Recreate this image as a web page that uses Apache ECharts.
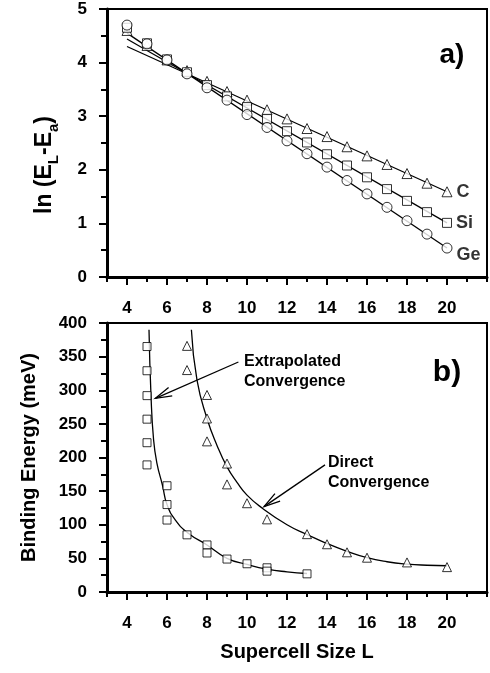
<!DOCTYPE html>
<html>
<head>
<meta charset="utf-8">
<script src="https://cdn.jsdelivr.net/npm/echarts@6/dist/echarts.min.js"></script>
<style>
  html, body { margin: 0; background: #fff; }
  #main { width: 490px; height: 673px; }
</style>
</head>
<body>
<div id="main"></div>
<script>
// panel a) ln(E_L - E_a) against L
const sizes = [4, 5, 6, 7, 8, 9, 10, 11, 12, 13, 14, 15, 16, 17, 18, 19, 20];
const geVals = [4.70, 4.35, 4.05, 3.79, 3.53, 3.30, 3.03, 2.79, 2.54, 2.30, 2.05, 1.80, 1.55, 1.30, 1.05, 0.80, 0.54];
const siVals = [4.65, 4.36, 4.06, 3.82, 3.58, 3.37, 3.17, 2.95, 2.72, 2.51, 2.29, 2.08, 1.86, 1.64, 1.42, 1.21, 1.01];
const cVals = [4.60, 4.32, 4.05, 3.85, 3.65, 3.46, 3.30, 3.12, 2.95, 2.77, 2.62, 2.43, 2.26, 2.10, 1.93, 1.75, 1.59];
// straight fits, value at L=4 and L=20
const fitX = [4, 20];
const geFit = [4.55, 0.54];
const siFit = [4.44, 1.01];
const cFit = [4.30, 1.59];

// panel b) binding energy (meV)
const extrapX = [5, 5, 5, 5, 5, 5, 6, 6, 6, 7, 8, 8, 9, 10, 11, 11, 13];
const extrapY = [365, 329, 292, 257, 222, 189, 158, 130, 107, 85, 70, 58, 49, 42, 36, 31, 27];
const directX = [7, 7, 8, 8, 8, 9, 9, 10, 11, 13, 14, 15, 16, 18, 20];
const directY = [366, 330, 293, 258, 224, 191, 160, 132, 108, 86, 71, 59, 51, 44, 37];
// fitted curves
const extrapCurveX = [5.10, 5.20, 5.33, 5.50, 5.78, 6.00, 6.42, 7.08, 8.00, 9.00, 10.0, 11.0, 12.0, 13.0];
const extrapCurveY = [390, 292, 226, 191, 158, 130, 107, 87, 70, 50, 41, 34, 30, 27.5];
const directCurveX = [7.22, 7.5, 8.0, 8.5, 9.0, 9.5, 10.0, 10.75, 12.0, 13.0, 14.0, 15.0, 16.0, 17.0, 18.0, 19.0, 20.0];
const directCurveY = [390, 315, 258, 218, 186, 163, 144, 125, 100, 85.5, 72, 60.5, 51, 45, 41.5, 39.8, 39];

const xTicks = [4, 6, 8, 10, 12, 14, 16, 18, 20];

const FONT = "'Liberation Sans', Arial, Helvetica, sans-serif";
const pairs = (xs, ys) => xs.map((x, i) => [x, ys[i]]);

const chart = echarts.init(document.getElementById('main'));

function majorX(grid, name) {
  return {
    gridIndex: grid, type: 'value', min: 3, max: 22, position: 'bottom',
    name: name, nameLocation: 'middle', nameGap: 50,
    nameTextStyle: { fontSize: 20, fontWeight: 'bold', color: '#000', fontFamily: FONT },
    axisLine: { show: true, lineStyle: { color: '#000', width: 3 } },
    axisTick: { show: true, customValues: xTicks, length: 8, lineStyle: { color: '#000', width: 2 } },
    axisLabel: { customValues: xTicks, margin: 23, fontSize: 17, fontWeight: 'bold', color: '#000', fontFamily: FONT },
    splitLine: { show: false }
  };
}
function minorX(grid) {
  return {
    gridIndex: grid, type: 'value', min: 3, max: 22, interval: 1, position: 'bottom',
    axisLine: { show: false },
    axisTick: { show: true, length: 5, lineStyle: { color: '#000', width: 2 } },
    axisLabel: { show: false },
    splitLine: { show: false }
  };
}
function yAx(grid, max, step, name) {
  return {
    gridIndex: grid, type: 'value', min: 0, max: max, interval: step,
    name: name, nameLocation: 'middle', nameGap: 68,
    nameTextStyle: { fontSize: 20, fontWeight: 'bold', color: '#000', fontFamily: FONT },
    axisLine: { show: true, lineStyle: { color: '#000', width: 3 } },
    axisTick: { show: true, length: 8, lineStyle: { color: '#000', width: 2 } },
    minorTick: { show: true, splitNumber: 2, length: 6, lineStyle: { color: '#000', width: 2 } },
    axisLabel: { margin: 20, fontSize: 17, fontWeight: 'bold', color: '#000', fontFamily: FONT },
    splitLine: { show: false }
  };
}

const marker = { color: '#fff', borderColor: '#000', borderWidth: 1 };
function points(data, symbol, size, xi, yi, tag, off) {
  return {
    type: 'scatter', xAxisIndex: xi, yAxisIndex: yi, data: data,
    symbol: symbol, symbolSize: size, itemStyle: marker, z: 5,
    label: {
      show: !!tag, position: 'right', distance: 4, offset: off || [0, 0],
      formatter: p => (p.dataIndex === data.length - 1 ? tag : ''),
      fontSize: 18, fontWeight: 'bold', color: '#000', fontFamily: FONT
    }
  };
}
function curve(data, xi, yi, smooth) {
  return {
    type: 'line', xAxisIndex: xi, yAxisIndex: yi, data: data, showSymbol: false,
    smooth: smooth || false, z: 3,
    lineStyle: { color: '#000', width: 1.3 }
  };
}

chart.setOption({
  animation: false,
  backgroundColor: '#fff',
  grid: [
    { left: 107, top: 9, width: 380, height: 268, show: true, borderColor: '#000', borderWidth: 2 },
    { left: 107, top: 323, width: 380, height: 269, show: true, borderColor: '#000', borderWidth: 2 }
  ],
  xAxis: [majorX(0, ''), minorX(0), majorX(1, 'Supercell Size L'), minorX(1)],
  yAxis: [yAx(0, 5, 1, ''), yAx(1, 400, 50, 'Binding Energy (meV)')],
  series: [
    curve(pairs(fitX, geFit), 0, 0),
    curve(pairs(fitX, siFit), 0, 0),
    curve(pairs(fitX, cFit), 0, 0),
    points(pairs(sizes, cVals), 'triangle', 10, 0, 0, 'C', [0, 0]),
    points(pairs(sizes, siVals), 'rect', 9, 0, 0, 'Si', [0, 0]),
    points(pairs(sizes, geVals), 'circle', 10, 0, 0, 'Ge', [0, 7]),
    curve(pairs(extrapCurveX, extrapCurveY), 2, 1, 0.5),
    curve(pairs(directCurveX, directCurveY), 2, 1, 0.5),
    points(pairs(extrapX, extrapY), 'rect', 8, 2, 1),
    points(pairs(directX, directY), 'triangle', 9, 2, 1)
  ]
});

// arrows and annotations
const toPx = pt => chart.convertToPixel({ xAxisIndex: 2, yAxisIndex: 1 }, pt);
function arrow(from, to) {
  const a = toPx(from), b = toPx(to);
  const ang = Math.atan2(a[1] - b[1], a[0] - b[0]);
  const len = 17, spread = 0.27;
  const arm = s => [b[0] + len * Math.cos(ang + s), b[1] + len * Math.sin(ang + s)];
  const ls = { stroke: '#000', lineWidth: 1.3, fill: null };
  return [
    { type: 'polyline', shape: { points: [a, b] }, style: ls, z: 10 },
    { type: 'polyline', shape: { points: [arm(spread), b, arm(-spread)] }, style: ls, z: 10 }
  ];
}
const txt = (x, y, text, size, align) => ({
  type: 'text', x: x, y: y, z: 10,
  style: { text: text, fontSize: size, fontWeight: 'bold', fontFamily: FONT, fill: '#000',
           lineHeight: size + 4, align: align || 'left', verticalAlign: 'top' }
});

chart.setOption({
  graphic: [
    ...arrow([9.57, 342], [5.42, 288]),
    ...arrow([13.9, 189], [10.85, 127]),
    txt(244, 352, 'Extrapolated\nConvergence', 16),
    txt(328, 453, 'Direct\nConvergence', 16),
    txt(452, 39, 'a)', 28, 'center'),
    txt(447, 356, 'b)', 30, 'center'),
    {
      type: 'text', x: 45, y: 165, rotation: Math.PI / 2, z: 10,
      style: {
        text: '{n|ln (E}{s|L}{n|-E}{s|a}{n|)}', align: 'center', verticalAlign: 'middle',
        rich: {
          n: { fontSize: 23, fontWeight: 'bold', fontFamily: FONT, fill: '#000', lineHeight: 32 },
          s: { fontSize: 15, fontWeight: 'bold', fontFamily: FONT, fill: '#000', lineHeight: 32, verticalAlign: 'bottom' }
        }
      }
    }
  ]
});
</script>
</body>
</html>
